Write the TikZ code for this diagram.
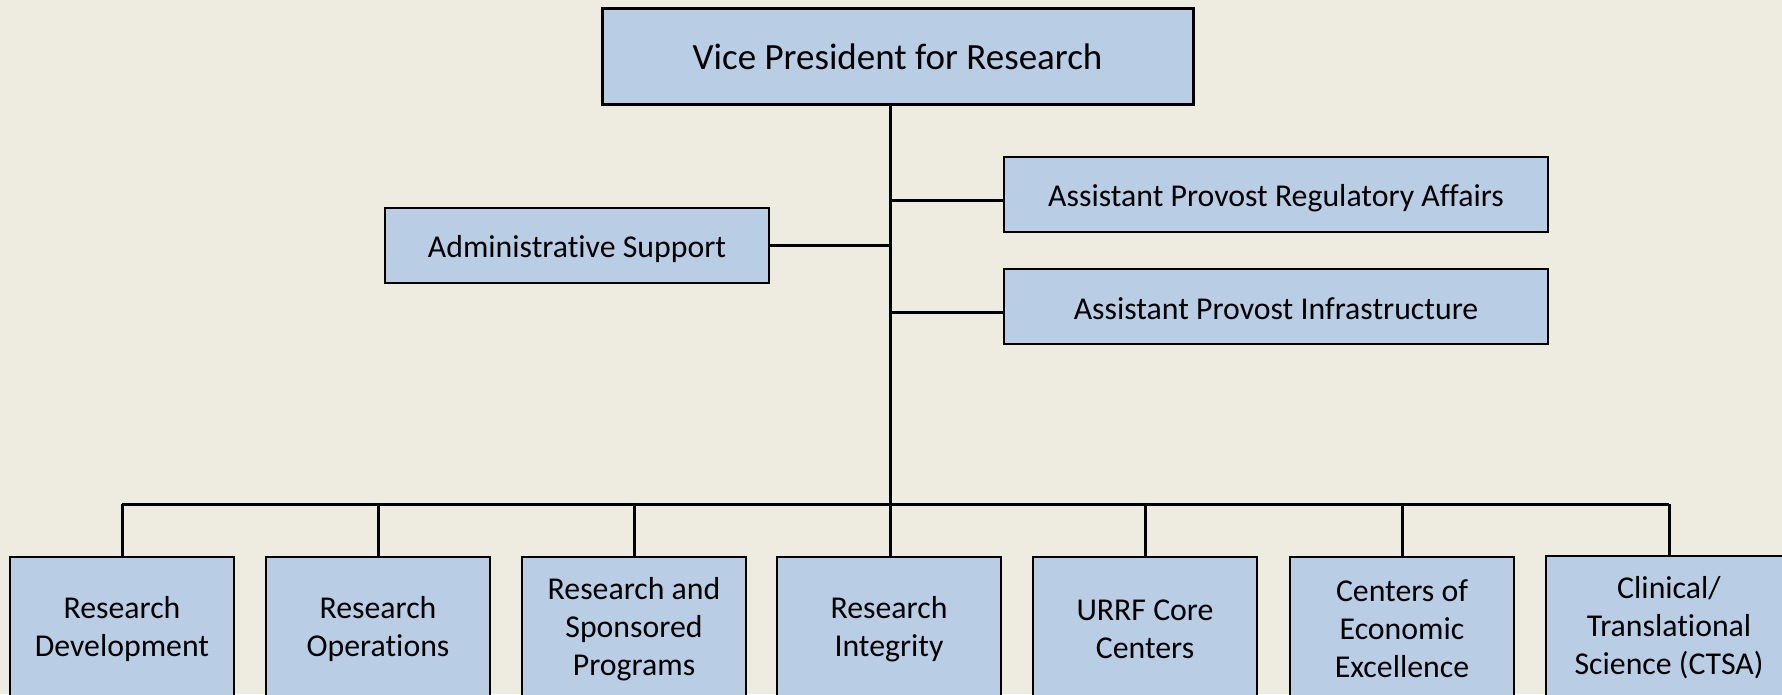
\documentclass[tikz,border=0pt]{standalone}
\usepackage{fontspec}
\setmainfont{Carlito}[RawFeature={-liga;-dlig;-clig}]
\definecolor{bgcol}{HTML}{EEECE1}
\definecolor{boxcol}{HTML}{B9CDE5}
\begin{document}
\begin{tikzpicture}[x=1pt,y=-1pt,
  box/.style={draw=black,fill=boxcol,line width=2pt,rectangle,inner sep=0pt},
  bottombox/.style={box,minimum width=224pt,minimum height=140pt},
  txt/.style={inner sep=0pt,align=center,font=\fontsize{31.8}{38}\selectfont},
  link/.style={line width=3pt,draw=black}]
\useasboundingbox[fill=bgcol] (0,0) rectangle (1782,694);
\begin{scope}
\clip (0,0) rectangle (1782,694);
\node[box,line width=3pt,minimum width=591pt,minimum height=96pt] (vp) at (897.5,56) {};
\node[txt,font=\fontsize{37}{44}\selectfont] (vpt) at ([yshift=-1pt]vp.center) {Vice President for Research};
\node[box,minimum width=544pt,minimum height=75pt] (reg) at (1276,194.5) {};
\node[txt] (regt) at ([yshift=-3.5pt]reg.center) {Assistant Provost Regulatory Affairs};
\node[box,minimum width=544pt,minimum height=75pt] (inf) at (1276,306.5) {};
\node[txt] (inft) at ([yshift=-2pt]inf.center) {Assistant Provost Infrastructure};
\node[box,minimum width=384pt,minimum height=75pt] (adm) at (577,245.5) {};
\node[txt] (admt) at ([yshift=-3.5pt]adm.center) {Administrative Support};
\node[bottombox] (b1) at (122,627) {};
\node[bottombox] (b2) at (378,627) {};
\node[bottombox] (b3) at (634,627) {};
\node[bottombox] (b4) at (889,627) {};
\node[bottombox] (b5) at (1145,627) {};
\node[bottombox] (b6) at (1402,627) {};
\node[bottombox,minimum width=246pt,minimum height=142pt] (b7) at (1669,627) {};
\node[txt] (b1t) at ([yshift=-2pt]b1.center) {Research\\Development};
\node[txt] (b2t) at ([yshift=-2pt]b2.center) {Research\\Operations};
\node[txt] (b3t) at ([yshift=-2pt]b3.center) {Research and\\Sponsored\\Programs};
\node[txt] (b4t) at ([yshift=-2pt]b4.center) {Research\\Integrity};
\node[txt] (b5t) at ([yshift=-2pt]b5.center) {URRF Core\\Centers};
\node[txt] (b6t) at ([yshift=-2pt]b6.center) {Centers of\\Economic\\Excellence};
\node[txt] (b7t) at ([yshift=-1pt]b7.center) {Clinical/\\Translational\\Science (CTSA)};
\coordinate (bus) at (890,504);
\draw[link] (vp.south -| bus) -- (bus);
\draw[link] ([yshift=-5.5pt]reg.west -| bus) -- ([yshift=-5.5pt]reg.west);
\draw[link] ([yshift=-5.5pt]inf.west -| bus) -- ([yshift=-5.5pt]inf.west);
\draw[link] (adm.east -| bus) -- (adm.east);
\draw[link] (b1.north |- bus) -- (b7.north |- bus);
\foreach \b in {b1,b2,b3,b5,b6,b7}{\draw[link] (\b.north |- bus) -- (\b.north);}
\draw[link] (bus) -- (b4.north -| bus);
\end{scope}
\end{tikzpicture}
\end{document}
